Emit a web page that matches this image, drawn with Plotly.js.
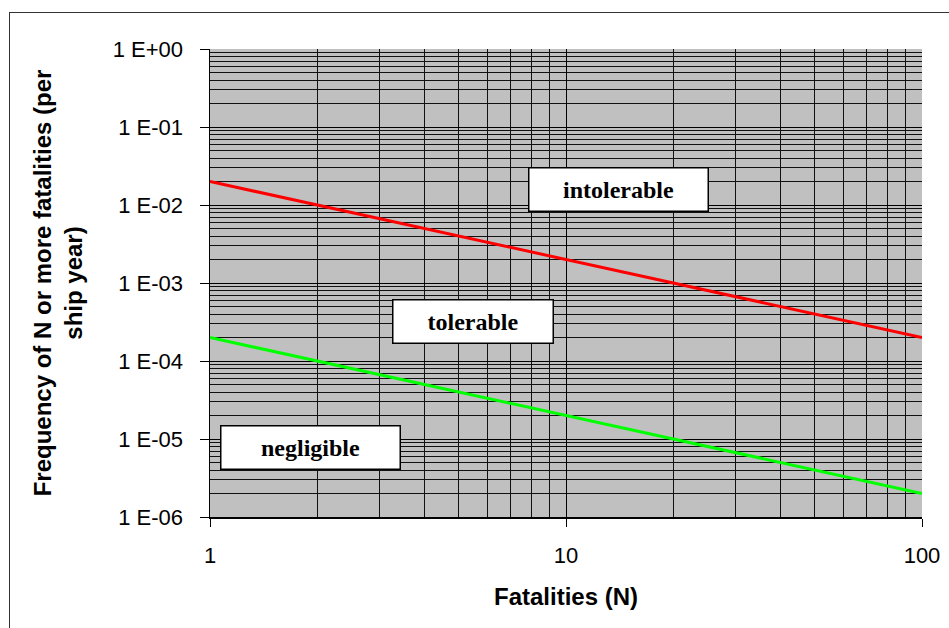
<!DOCTYPE html>
<html>
<head>
<meta charset="utf-8">
<script src="https://cdn.plot.ly/plotly-3.0.1.min.js"></script>
<style>
  html, body { margin: 0; padding: 0; overflow: hidden; background: #fff; }
  #chart { width: 949px; height: 628px; position: absolute; left: 0; top: 0; }
  #frame { position: absolute; left: 9px; top: 12px; width: 1000px; height: 700px;
           border-left: 1.5px solid #333; border-top: 1.5px solid #333; pointer-events: none; }
</style>
</head>
<body>
<div id="chart"></div>
<div id="frame"></div>
<script>
// Data
const fatalities = [1, 10, 100];
const intolerableLimit = [2e-2, 2e-3, 2e-4];
const negligibleLimit = [2e-4, 2e-5, 2e-6];
const yTickVals = [1e-6, 1e-5, 1e-4, 1e-3, 1e-2, 1e-1, 1];
const yTickText = ['1 E-06', '1 E-05', '1 E-04', '1 E-03', '1 E-02', '1 E-01', '1 E+00'];
const xTickVals = [1, 10, 100];
const xTickText = ['1', '10', '100'];
const regionLabels = ['intolerable', 'tolerable', 'negligible'];

const traces = [
  { x: fatalities, y: intolerableLimit, type: 'scatter', mode: 'lines',
    line: { color: '#FF0000', width: 3 }, name: 'intolerable limit', hoverinfo: 'x+y' },
  { x: fatalities, y: negligibleLimit, type: 'scatter', mode: 'lines',
    line: { color: '#00FF00', width: 3 }, name: 'negligible limit', hoverinfo: 'x+y' }
];

const labelFont = { family: '"Liberation Serif", "Times New Roman", serif', size: 24, color: '#000' };
function box(text, x, y, w, h) {
  return { text: '<b>' + text + '</b>', xref: 'paper', yref: 'paper', x: x, y: y,
           xanchor: 'center', yanchor: 'middle', showarrow: false,
           width: w, height: h, bgcolor: '#FFFFFF', bordercolor: '#000000',
           borderwidth: 1.5, borderpad: 0, font: labelFont, align: 'center', valign: 'middle' };
}

const gridMinor = { showgrid: true, gridcolor: '#111', gridwidth: 1, ticks: '', dtick: 'D1' };
const tickFont = { family: '"Liberation Sans", Arial, sans-serif', size: 22, color: '#000' };
const titleFont = { family: '"Liberation Sans", Arial, sans-serif', size: 24, color: '#000', weight: 'bold' };

const layout = {
  width: 949, height: 628,
  margin: { l: 210, r: 27, t: 49, b: 111, pad: 0 },
  paper_bgcolor: '#FFFFFF',
  plot_bgcolor: '#C0C0C0',
  showlegend: false,
  xaxis: {
    type: 'log', range: [0, 2], tickvals: xTickVals, ticktext: xTickText,
    ticks: 'outside', ticklen: 8, tickcolor: '#000', tickwidth: 1,
    showline: true, linecolor: '#000', linewidth: 1.5, mirror: false,
    showgrid: true, gridcolor: '#000', gridwidth: 1,
    minor: gridMinor, zeroline: false,
    tickfont: tickFont, ticklabelstandoff: 10,
    title: { text: '<b>Fatalities (N)</b>', font: titleFont, standoff: 21 },
    automargin: false
  },
  yaxis: {
    type: 'log', range: [-6, 0], tickvals: yTickVals, ticktext: yTickText,
    ticks: 'outside', ticklen: 9, tickcolor: '#000', tickwidth: 1,
    showline: true, linecolor: '#000', linewidth: 1.5, mirror: false,
    showgrid: true, gridcolor: '#000', gridwidth: 1,
    minor: gridMinor, zeroline: false,
    tickfont: tickFont, ticklabelstandoff: 12,
    title: { text: '<b>Frequency of N or more fatalities (per<br>ship year)</b>', font: titleFont, standoff: 23 },
    automargin: false
  },
  annotations: [
    box(regionLabels[0], 0.574, 0.699, 178, 42),
    box(regionLabels[1], 0.369, 0.418, 159, 42),
    box(regionLabels[2], 0.141, 0.1485, 178, 42)
  ]
};

Plotly.newPlot('chart', traces, layout, { displayModeBar: false, staticPlot: true });
</script>
</body>
</html>
